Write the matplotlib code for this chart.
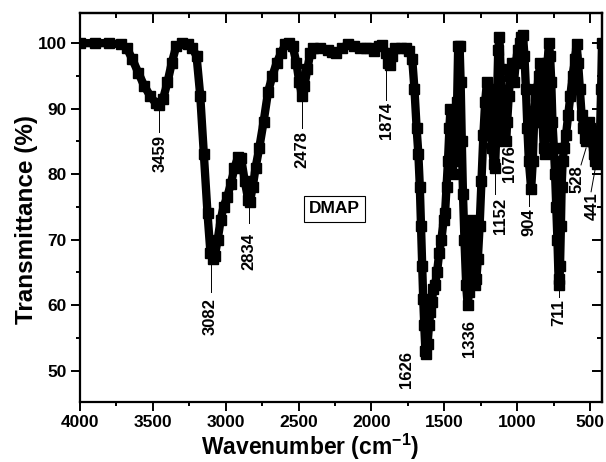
import matplotlib.pyplot as plt
from matplotlib.ticker import MultipleLocator

plt.rcParams['font.family'] = ['Liberation Sans', 'DejaVu Sans']
plt.rcParams['mathtext.fontset'] = 'custom'
plt.rcParams['mathtext.rm'] = 'Liberation Sans'
plt.rcParams['mathtext.bf'] = 'Liberation Sans:bold'

# FTIR spectrum of DMAP
wavenumber = [4000, 3900, 3800, 3720, 3680, 3640, 3600, 3560, 3520, 3480, 3459, 3430,
              3400, 3370, 3340, 3300, 3260, 3230, 3200, 3175, 3150, 3125, 3105, 3090,
              3075, 3055, 3035, 3015, 2990, 2965, 2940, 2915, 2895, 2870, 2845, 2834,
              2815, 2795, 2770, 2740, 2710, 2680, 2650, 2620, 2590, 2565, 2540, 2515,
              2495, 2478, 2460, 2440, 2420, 2400, 2350, 2300, 2270, 2240, 2200, 2160,
              2120, 2080, 2040, 2010, 1980, 1950, 1925, 1900, 1885, 1874, 1860, 1840,
              1800, 1760, 1740, 1720, 1705, 1690, 1678, 1668, 1660, 1652, 1645, 1638,
              1630, 1626, 1615, 1605, 1595, 1585, 1575, 1565, 1550, 1535, 1520, 1505,
              1495, 1485, 1475, 1465, 1458, 1450, 1442, 1435, 1428, 1420, 1412, 1405,
              1395, 1388, 1380, 1372, 1362, 1350, 1340, 1330, 1320, 1310, 1300, 1290,
              1280, 1270, 1258, 1245, 1232, 1220, 1208, 1195, 1185, 1172, 1160, 1152,
              1145, 1138, 1130, 1122, 1114, 1106, 1098, 1088, 1076, 1068, 1058, 1048,
              1036, 1022, 1010, 996, 984, 972, 960, 950, 940, 930, 920, 904,
              893, 884, 874, 864, 852, 842, 834, 826, 818, 810, 802, 792,
              782, 774, 766, 758, 748, 740, 732, 724, 716, 711, 706, 700,
              695, 688, 678, 665, 650, 635, 620, 605, 592, 582, 570, 558,
              545, 536, 528, 518, 508, 498, 488, 476, 464, 452, 441, 432,
              424, 418]
transmittance = [100, 100, 100, 99.8, 99.3, 97.5, 95.5, 93.5, 92, 90.8, 90.5, 91.5,
                 94, 97, 99.5, 100, 99.8, 99.3, 98, 92, 83, 74, 68, 67,
                 67.5, 70, 73, 75, 76.5, 78.5, 81, 82.6, 82.5, 79, 76, 75.8,
                 78, 81, 84, 88, 92.5, 95, 97, 98.5, 99.8, 100, 99.5, 97,
                 94, 92, 93.5, 96, 98.5, 99.3, 99.2, 99, 98.6, 98.5, 99.3, 99.8,
                 99.5, 99.2, 99.2, 99.3, 98.8, 99.5, 99.7, 98.5, 97, 96.6, 98, 99.2,
                 99.2, 99.2, 98.8, 97.5, 93, 87, 83, 78, 72, 66, 61, 57,
                 53, 52.5, 54, 57, 59, 60.5, 62.5, 63, 65, 68, 70, 73,
                 74, 78, 82, 87, 90, 85, 80, 84, 88, 82, 91, 99.5,
                 99.5, 94, 85, 77, 70, 63, 60, 62, 68, 73, 67, 63,
                 64, 67, 72, 79, 86, 91, 94, 93, 88, 84, 81.5, 81,
                 85, 92, 99, 101, 96, 91, 88, 86, 85, 88, 92, 95,
                 97, 94, 97, 99, 100, 101, 101.2, 98, 93, 87, 82, 77.7,
                 82, 88, 92, 93, 95, 97, 93, 88, 84, 83, 90, 97,
                 100, 98, 94, 88, 84, 80, 75, 70, 64, 63, 66, 72,
                 78, 82, 84, 86, 89, 92, 95, 97.5, 99.8, 97, 93, 89,
                 87, 85.5, 85, 86, 88, 87, 85, 83, 82, 81.5, 82, 86,
                 93, 100]

peak_labels = ['3459', '3082', '2834', '2478', '1874', '1626', '1336',
               '1152', '1076', '904', '711', '528', '441']
# label centre (wavenumber, T) and leader line ends
label_pos = [(3452, 83.1), (3110, 58.3), (2842, 68.2), (2479, 83.8), (1897, 88.2),
             (1760, 50.2), (1329, 54.9), (1112, 73.6), (1055, 81.6), (918, 72.6),
             (712, 58.9), (589, 79.3), (486, 75.1)]
leaders = [((3455, 90.1), (3455, 86.4)), ((3103, 66.6), (3103, 62.0)),
           ((2842, 75.3), (2842, 72.5)), ((2479, 91.6), (2479, 87.0)),
           ((1897, 96.3), (1897, 91.3)), None, None,
           ((1151, 80.6), (1151, 77.0)), None, ((918, 77.3), (918, 75.2)),
           ((712, 63.1), (712, 61.3)), ((562, 81.4), (527, 84.0)),
           ((493, 77.3), (459, 81.5))]

fig = plt.figure(figsize=(6.06, 4.62), dpi=100)
ax = fig.add_axes([80/606, 60/462, 522/606, 389/462])

ax.plot(wavenumber, transmittance, color='black', lw=6, marker='s', ms=6.5,
        solid_joinstyle='round', solid_capstyle='butt')

for s, (tx, ty), ld in zip(peak_labels, label_pos, leaders):
    ax.text(tx, ty, s, rotation=90, ha='center', va='center',
            fontsize=12, fontweight='bold')
    if ld is not None:
        ax.plot([ld[0][0], ld[1][0]], [ld[0][1], ld[1][1]], color='black', lw=0.7)

ax.text(2253, 74.7, 'DMAP', ha='center', va='center', fontsize=12.5, fontweight='bold',
        bbox=dict(boxstyle='square,pad=0.3', facecolor='white', edgecolor='black', lw=0.8))

ax.set_xlim(4000, 418)
ax.set_ylim(45.2, 104.6)
ax.xaxis.set_major_locator(MultipleLocator(500))
ax.xaxis.set_minor_locator(MultipleLocator(250))
ax.yaxis.set_major_locator(MultipleLocator(10))
ax.yaxis.set_minor_locator(MultipleLocator(5))

for sp in ax.spines.values():
    sp.set_linewidth(1.6)

ax.tick_params(which='major', direction='out', length=6.5, width=1.4,
               labelsize=12.5, pad=3)
ax.tick_params(which='minor', direction='out', length=3.2, width=1.4)
for lab in ax.get_xticklabels() + ax.get_yticklabels():
    lab.set_fontweight('bold')

# top and right axes: ticks pointing in, no labels
top = ax.secondary_xaxis('top')
top.xaxis.set_major_locator(MultipleLocator(500))
top.xaxis.set_minor_locator(MultipleLocator(250))
top.tick_params(which='major', direction='in', length=7.5, width=1.4, labeltop=False)
top.tick_params(which='minor', direction='in', length=3.5, width=1.4)
top.spines['top'].set_linewidth(1.6)
right = ax.secondary_yaxis('right')
right.yaxis.set_major_locator(MultipleLocator(10))
right.yaxis.set_minor_locator(MultipleLocator(5))
right.tick_params(which='major', direction='in', length=7.5, width=1.4, labelright=False)
right.tick_params(which='minor', direction='in', length=3.5, width=1.4)
right.spines['right'].set_linewidth(1.6)

ax.set_xlabel('Wavenumber (cm$^{\\mathbf{-1}}$)', fontsize=16.5, fontweight='bold')
ax.set_ylabel('Transmittance (%)', fontsize=17.5, fontweight='bold')
ax.xaxis.set_label_coords(0.44, -0.077)
ax.yaxis.set_label_coords(-0.08, 0.47)

fig.savefig('out.png', dpi=100)
